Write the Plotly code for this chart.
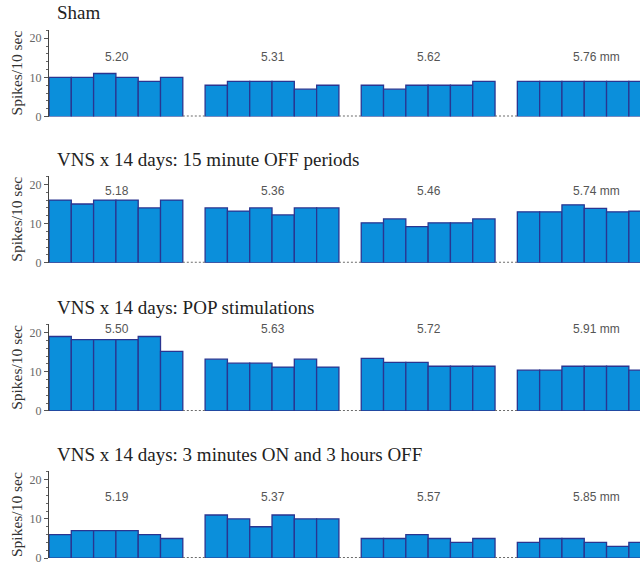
import plotly.graph_objects as go

# Firing rate (spikes per 10 s) for six consecutive cells along each electrode track
panel_titles = [
    "Sham",
    "VNS x 14 days: 15 minute OFF periods",
    "VNS x 14 days: POP stimulations",
    "VNS x 14 days: 3 minutes ON and 3 hours OFF",
]

sham = [[10, 10, 11, 10, 9, 10], [8, 9, 9, 9, 7, 8], [8, 7, 8, 8, 8, 9], [9, 9, 9, 9, 9, 9]]
off_15min = [[16, 15, 16, 16, 14, 16], [14, 13.2, 14, 12.2, 14, 14],
             [10.2, 11.2, 9.2, 10.2, 10.2, 11.2], [13, 13, 14.8, 13.9, 13, 13.2]]
pop_stim = [[19, 18.2, 18.2, 18.2, 19, 15.2], [13.2, 12.2, 12.2, 11.2, 13.2, 11.2],
            [13.4, 12.4, 12.4, 11.4, 11.4, 11.4], [10.4, 10.4, 11.4, 11.4, 11.4, 10.4]]
on3_off3h = [[6, 7, 7, 7, 6, 5], [11, 10, 8, 11, 10, 10], [5, 5, 6, 5, 4, 5], [4, 5, 5, 4, 3, 4]]

depth_labels = [
    ["5.20", "5.31", "5.62", "5.76 mm"],
    ["5.18", "5.36", "5.46", "5.74 mm"],
    ["5.50", "5.63", "5.72", "5.91 mm"],
    ["5.19", "5.37", "5.57", "5.85 mm"],
]

panels = [sham, off_15min, pop_stim, on3_off3h]
label_heights = [15.1, 18.4, 20.9, 15.6]

W, H = 640, 571
# panel (top, bottom) pixel extents
panel_px = [(30, 118), (178, 266), (328, 416), (477, 565)]
y_max = 22.2
x_max = 26.5
group_step = 7  # six bars plus a one-bar gap

BAR_FILL = "#0b8fdb"
BAR_EDGE = "#2a3590"

fig = go.Figure()
layout = dict(
    width=W, height=H,
    margin=dict(l=0, r=0, t=0, b=0),
    paper_bgcolor="white", plot_bgcolor="white",
    showlegend=False,
    annotations=[],
)

for p, groups in enumerate(panels):
    n = "" if p == 0 else str(p + 1)
    xa, ya = "x" + n, "y" + n
    top, bot = panel_px[p]

    xs, ys = [], []
    for g, vals in enumerate(groups):
        for i, v in enumerate(vals):
            xs.append(g * group_step + i + 0.5)
            ys.append(v)
    fig.add_trace(go.Bar(
        x=xs, y=ys, width=1.0, xaxis=xa, yaxis=ya,
        marker=dict(color=BAR_FILL, line=dict(color=BAR_EDGE, width=1.3)),
        hoverinfo="skip",
    ))

    # dotted baseline across the gaps between tracks
    for g in range(len(groups)):
        x0 = g * group_step + len(groups[g])
        x1 = (g + 1) * group_step
        fig.add_trace(go.Scatter(
            x=[x0, x1], y=[0, 0], mode="lines", xaxis=xa, yaxis=ya,
            line=dict(color="#6b6b6b", width=2, dash="2px,2px"),
            hoverinfo="skip", cliponaxis=False,
        ))

    layout["xaxis" + n] = dict(
        domain=[49 / W, 1.0], range=[0, x_max], visible=False,
        anchor=ya, fixedrange=True,
    )
    layout["yaxis" + n] = dict(
        domain=[1 - bot / H, 1 - top / H], range=[0, y_max], anchor=xa,
        showline=True, linecolor="#444", linewidth=1,
        ticks="outside", ticklen=4, tickcolor="#555",
        tickvals=[0, 10, 20], showgrid=False, zeroline=False,
        tickfont=dict(family="Liberation Serif", size=12, color="#666"),
        minor=dict(dtick=2, ticks="outside", ticklen=2, tickcolor="#666", showgrid=False),
        title=dict(text="Spikes/10 sec", standoff=3,
                   font=dict(family="Liberation Serif", size=15.5, color="#333")),
    )

    # panel heading
    layout["annotations"].append(dict(
        text=panel_titles[p], xref="paper", yref="paper",
        x=55 / W, y=1 - (top - 17) / H, xanchor="left", yanchor="middle",
        showarrow=False,
        font=dict(family="Liberation Serif", size=19, color="#222"),
    ))

    # track depth labels
    for g, lab in enumerate(depth_labels[p]):
        layout["annotations"].append(dict(
            text=lab, xref=xa, yref=ya,
            x=g * group_step + 3, y=label_heights[p],
            xanchor="left", xshift=-13, yanchor="middle", showarrow=False,
            font=dict(family="Liberation Sans", size=12, color="#555"),
        ))

fig.update_layout(**layout)
fig.write_html("out.html")
